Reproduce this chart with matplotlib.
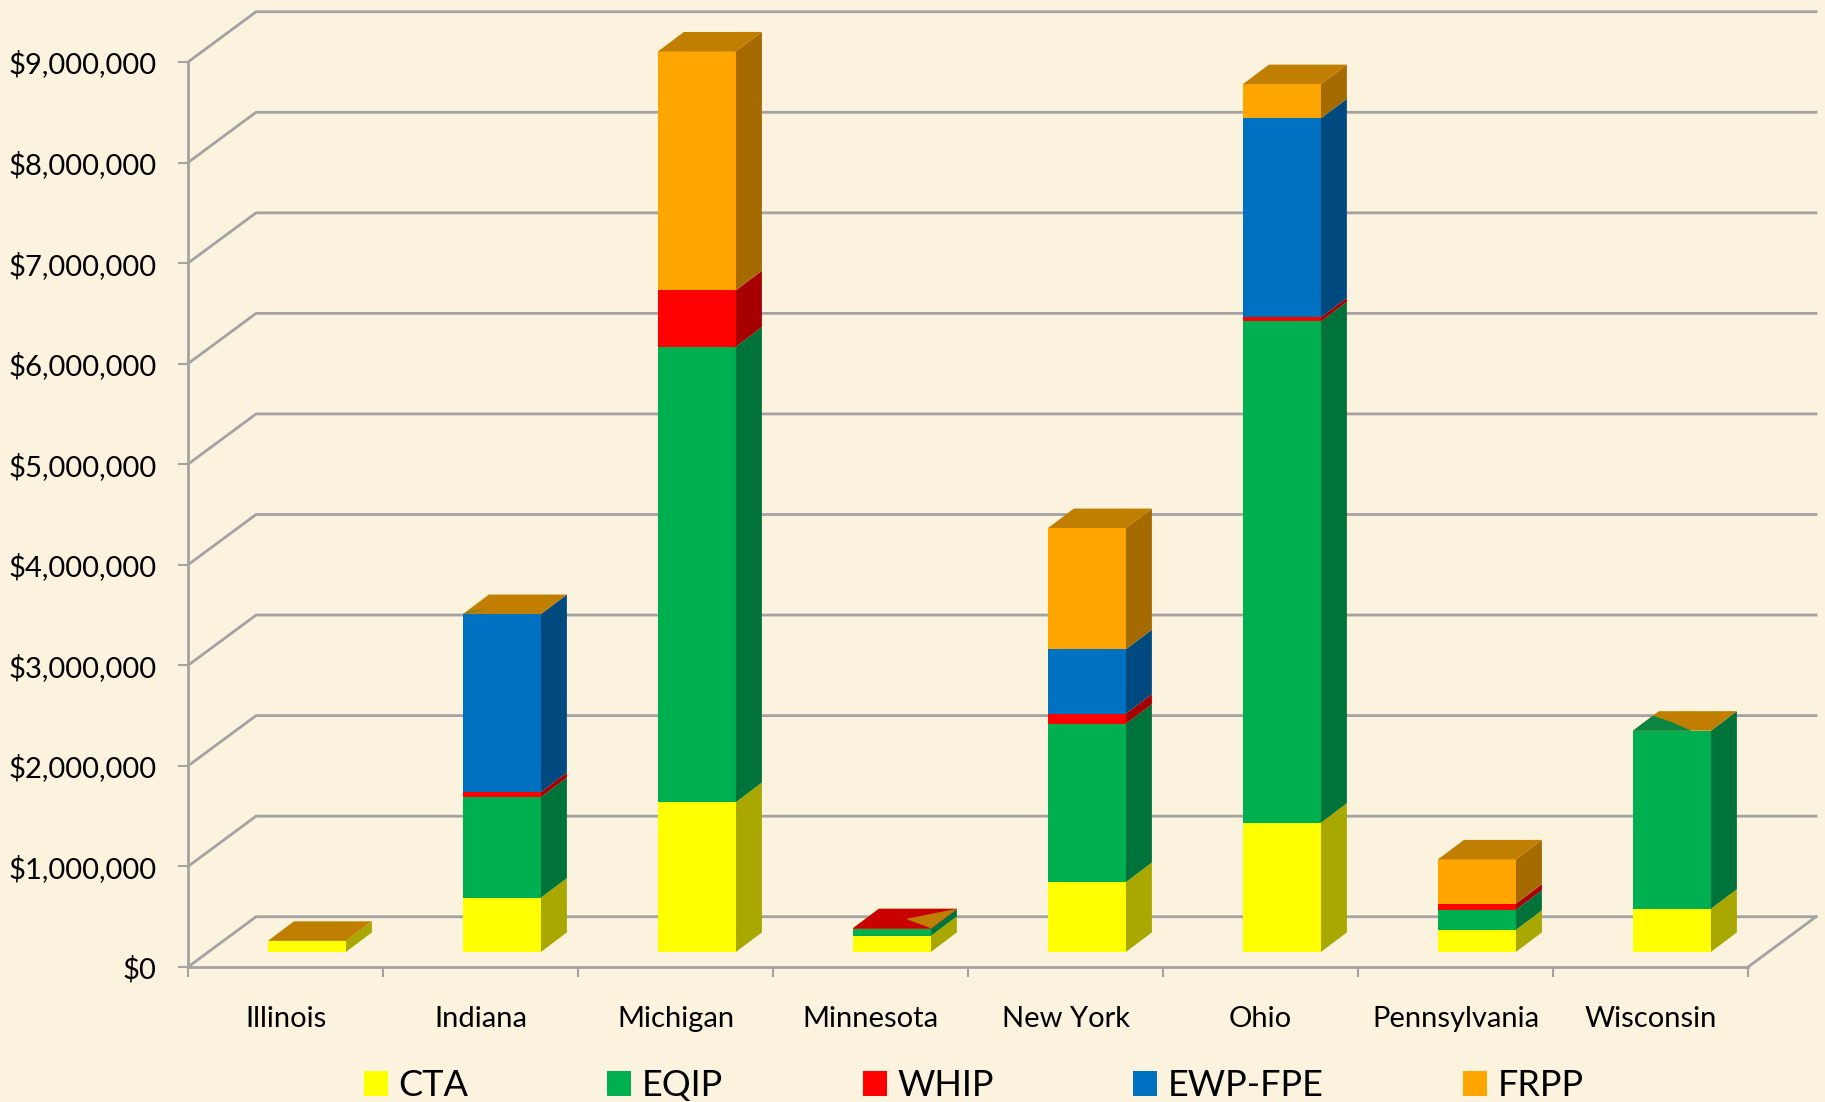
# Stacked 3D-look column chart of funding by state

import matplotlib
matplotlib.use("Agg")
import matplotlib.pyplot as plt
from matplotlib.patches import Patch
from matplotlib.ticker import FuncFormatter

plt.rcParams['font.family'] = ['Lato', 'DejaVu Sans']

states = ["Illinois", "Indiana", "Michigan", "Minnesota", "New York", "Ohio", "Pennsylvania", "Wisconsin"]
programs = ["CTA", "EQIP", "WHIP", "EWP-FPE", "FRPP"]
cta = [110000, 540000, 1490000, 160000, 695000, 1285000, 220000, 430000]
eqip = [0, 1000000, 4530000, 70000, 1575000, 4985000, 200000, 1770000]
whip = [0, 50000, 560000, 5000, 100000, 40000, 60000, 0]
ewp = [0, 1770000, 0, 0, 640000, 1980000, 0, 0]
frpp = [0, 0, 2375000, 0, 1205000, 340000, 440000, 0]
series = [cta, eqip, whip, ewp, frpp]

front_cols = ["#FFFF00", "#00B050", "#FF0000", "#0070C0", "#FFA500"]
side_cols = ["#A8A800", "#00733A", "#A60000", "#004A80", "#A56B00"]
top_col = "#C07F00"
bg = "#FCF3DF"
grid_col = "#A3A3A3"

# depth of the floor and of each bar, in axis units
floor_dx, floor_dy = 0.349, 500000
bar_dx, bar_dy = 0.133, 194000
bar_left, bar_w = 0.41, 0.40
lift = 150000

# patches of wrong colour on the top faces: state, colour, (along width, along depth)
top_marks = [
    (3, "#C80000", [(0, 0), (1, 0), (1, 1), (0, 1)]),
    (3, top_col, [(0.52, 0.48), (1, 1), (1, 0)]),
    (1, "#4E7A6A", [(0, 0), (0.24, 0.29), (0.03, 0.12)]),
    (7, "#0A8542", [(0, 0), (0, 0.77), (0.35, 0.44), (0.75, 0)]),
]

fig = plt.figure(figsize=(18.25, 11.02), dpi=100, facecolor=bg)
ax = fig.add_axes([188 / 1825, (1102 - 967) / 1102, 1560 / 1825, 905 / 1102])
ax.set_facecolor("none")
ax.set_xlim(0, 8)
ax.set_ylim(0, 9000000)

# walls
levels = range(0, 9000001, 1000000)
for v in levels:
    ax.plot([0, floor_dx, 8 + floor_dx], [v, v + floor_dy, v + floor_dy],
            color=grid_col, lw=2.0, zorder=1, clip_on=False, solid_joinstyle="miter")
ax.plot([8, 8 + floor_dx], [0, floor_dy], color=grid_col, lw=2.0, zorder=1, clip_on=False)

# bars
for i in range(len(states)):
    x0 = i + bar_left
    x1 = x0 + bar_w
    base = lift
    for k in range(len(series)):
        h = series[k][i]
        if h == 0:
            continue
        ax.bar(x0, h, bar_w, bottom=base, align="edge", color=front_cols[k], lw=0, zorder=3, clip_on=False)
        ax.fill([x1, x1 + bar_dx, x1 + bar_dx, x1],
                [base, base + bar_dy, base + h + bar_dy, base + h],
                color=side_cols[k], lw=0, zorder=3, clip_on=False)
        base += h
    ax.fill([x0, x1, x1 + bar_dx, x0 + bar_dx],
            [base, base, base + bar_dy, base + bar_dy],
            color=top_col, lw=0, zorder=3, clip_on=False)
    for st, col, pts in top_marks:
        if st == i:
            ax.fill([x0 + u * bar_w + d * bar_dx for u, d in pts],
                    [base + d * bar_dy for u, d in pts],
                    color=col, lw=0, zorder=3.5, clip_on=False)

# axes
for s in ["top", "right"]:
    ax.spines[s].set_visible(False)
for s in ["left", "bottom"]:
    ax.spines[s].set_color(grid_col)
    ax.spines[s].set_linewidth(2.0)
    ax.spines[s].set_zorder(2)

ax.set_yticks(list(levels))
ax.yaxis.set_major_formatter(FuncFormatter(lambda v, p: "${:,.0f}".format(v)))
ax.tick_params(axis="y", length=7.5, width=1.5, color=grid_col, pad=15, labelsize=21, labelcolor="black")
ax.set_xticks(range(9))
ax.set_xticklabels([])
ax.set_xticks([i + 0.5 for i in range(8)], minor=True)
ax.set_xticklabels(states, minor=True)
ax.tick_params(axis="x", which="major", length=7.5, width=1.5, color=grid_col)
ax.tick_params(axis="x", which="minor", length=0, pad=28, labelsize=21, labelcolor="black")

handles = [Patch(color=c, lw=0) for c in front_cols]
fig.legend(handles, programs, ncol=5, loc="lower left",
           bbox_to_anchor=(363.5 / 1825, 0), frameon=False, fontsize=26,
           handlelength=0.665, handleheight=0.665, handletextpad=0.3,
           columnspacing=3.85, borderpad=0, borderaxespad=0, labelspacing=0)

fig.savefig("out.png", dpi=100, facecolor=bg)
